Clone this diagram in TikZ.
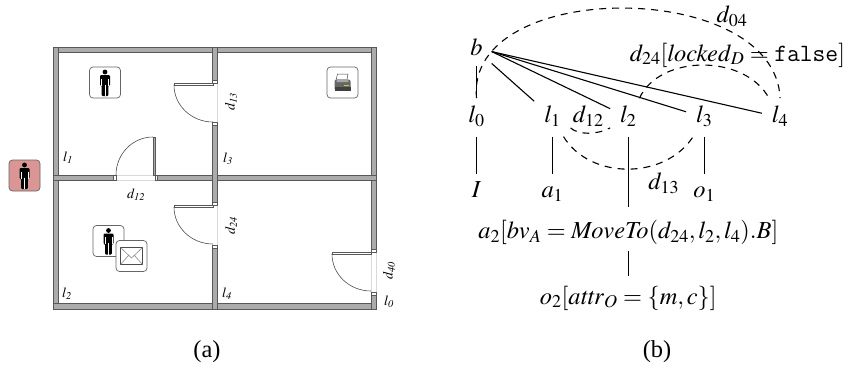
\documentclass[tikz,border=0pt]{standalone}
\usepackage{mathptmx}
\usepackage[no-math]{fontspec}
\setmainfont{Liberation Serif}
\usetikzlibrary{positioning}
\definecolor{wallgray}{HTML}{ABABAB}
\definecolor{walledge}{HTML}{585858}
\definecolor{redbox}{HTML}{D99694}
\tikzset{
  wall/.style={fill=wallgray,draw=walledge,line width=.55pt},
  jamb/.style={fill=white,draw=walledge,line width=.5pt},
  gap/.style={draw=black!15,line width=.8pt},
  swing/.style={draw=black!70,line width=.6pt},
  iconbox/.style={draw=black!60,fill=white,rounded corners=3.5pt,minimum size=31pt,inner sep=0pt,line width=.7pt},
  room/.style={font=\fontsize{14}{16}\selectfont,inner sep=0pt},
  big label/.style={font=\fontsize{24.4}{28}\selectfont},
  cap label/.style={big label,inner sep=0pt},
  loc/.style={big label,minimum width=36pt,minimum height=38pt,inner sep=0pt,text height=11pt,text depth=1pt},
  link/.style={draw=black,line width=1.1pt},
  door link/.style={draw=black,line width=1.1pt,dash pattern=on 7pt off 6pt},
  person/.pic={
    \fill[black] (0,-10.5) circle (2.4);
    \fill[black,rounded corners=1pt] (-5,-7.5) -- (5,-7.5) -- (5,3) -- (3.4,3) -- (3.4,13.5) -- (-3.4,13.5) -- (-3.4,3) -- (-5,3) -- cycle;
    \draw[white,line width=.5pt] (0,2) -- (0,13.5) (-3.4,-4) -- (-3.4,3) (3.4,-4) -- (3.4,3);
  },
  printer/.pic={
    \fill[white,draw=black!70,line width=.5pt] (-5,-8.5) -- (5.5,-8.5) -- (4,0) -- (-7,0) -- cycle;
    \fill[black!60,rounded corners=2pt] (-8,-3) -- (8,-3) -- (8,8) -- (-8,8) -- cycle;
    \fill[black!35] (-5.5,-3.5) -- (5.5,-3.5) -- (6,-.5) -- (-6,-.5) -- cycle;
    \fill[black!75] (-8,4) rectangle (8,8);
    \fill[yellow!80!black] (1.5,2) rectangle (6,3.3);
  },
  envelope/.pic={
    \draw[black!70,line width=1pt,fill=white] (-11,-8.5) rectangle (11,8.5);
    \draw[black!45,line width=.6pt] (-11,-8.5) -- (0,2) -- (11,-8.5) (-11,8.5) -- (-3,-.5) (11,8.5) -- (3,-.5);
  }
}
\begin{document}
\begin{tikzpicture}[x=1pt,y=-1pt]
  \useasboundingbox (0,0) rectangle (849,370);

  % floor plan
  \draw[wall] (53,47) rectangle (376,52.5);
  \draw[wall] (53,47) rectangle (58.5,309);
  \draw[wall] (53,303.5) rectangle (376,309);
  \draw[wall] (371,47) rectangle (376,252);
  \draw[wall] (371,292) rectangle (376,309);
  \draw[wall] (53,175.5) rectangle (116,180.5);
  \draw[wall] (155,175.5) rectangle (376,180.5);
  \draw[wall] (212.7,47) rectangle (217.3,83);
  \draw[wall] (212.7,122) rectangle (217.3,205);
  \draw[wall] (212.7,245) rectangle (217.3,309);

  % doors
  \draw[gap] (217.3,83) -- (217.3,122);
  \draw[gap] (217.3,205) -- (217.3,245);
  \draw[gap] (371,252) -- (371,292) (376,252) -- (376,292);
  \draw[gap] (116,175.5) -- (155,175.5) (116,180.5) -- (155,180.5);
  \draw[jamb] (212.7,80.5) rectangle (217.3,83);
  \draw[jamb] (212.7,122) rectangle (217.3,125);
  \draw[jamb] (212.7,202.5) rectangle (217.3,205);
  \draw[jamb] (212.7,245) rectangle (217.3,248);
  \draw[jamb] (371,249.5) rectangle (376,252);
  \draw[jamb] (371,292) rectangle (376,295);
  \draw[jamb] (113.5,175.5) rectangle (116,180.5);
  \draw[jamb] (155,175.5) rectangle (157.5,180.5);
  \draw[jamb] (174,83) rectangle (213,85);
  \draw[jamb] (174,205) rectangle (213,207);
  \draw[jamb] (332,252) rectangle (371,254);
  \draw[wall,line width=.3pt] (153,137) rectangle (155.5,175.5);
  \draw[swing] (174,85) arc (180:90:39 and 37);
  \draw[swing] (174,207) arc (180:90:39 and 37);
  \draw[swing] (332,254) arc (180:90:39 and 37);
  \draw[swing] (153,137) arc (-90:-180:37 and 38);

  % agents and objects
  \node[iconbox] (agent1) at (105,82.5) {};
  \pic at (agent1) {person};
  \node[iconbox] (printer1) at (342.5,82.5) {};
  \pic at (printer1) {printer};
  \node[iconbox,fill=redbox] (agent0) at (24.5,175.5) {};
  \pic at (agent0) {person};
  \node[iconbox] (agent2) at (108.5,241) {};
  \pic at (agent2) {person};
  \node[iconbox] (mail) at (131.5,256) {};
  \pic at (mail) {envelope};

  % room and door labels
  \node[room] (r1) at (68,158) {$l_{\mathit{1}}$};
  \node[room] (r3) at (228,159) {$l_{\mathit{3}}$};
  \node[room] (r2) at (67,294) {$l_{\mathit{2}}$};
  \node[room] (r4) at (227,294) {$l_{\mathit{4}}$};
  \node[room] (r0) at (389,302) {$l_{\mathit{0}}$};
  \node[room] (dd12) at (136,195) {$d_{\mathit{12}}$};
  \node[room,rotate=90] (dd13) at (231,102) {$d_{\mathit{13}}$};
  \node[room,rotate=90] (dd24) at (231,226) {$d_{\mathit{24}}$};
  \node[room,rotate=90] (dd40) at (389,271) {$d_{\mathit{40}}$};

  % tree
  \node[loc,minimum width=30pt,minimum height=32pt] (b) at (476.5,50) {$b$};
  \node[loc] (l0) [below=32pt of b] {$l_0$};
  \node[loc] (l1) [right=39.5pt of l0] {$l_1$};
  \node[loc] (l2) [right=39.5pt of l1] {$l_2$};
  \node[loc] (l3) [right=39.5pt of l2] {$l_3$};
  \node[loc] (l4) [right=39.5pt of l3] {$l_4$};
  \node[loc] (i) [below=37pt of l0] {$I$};
  \node[loc] (a1) [below=37pt of l1] {$a_1$};
  \node[loc] (o1) [below=37pt of l3] {$o_1$};
  \node[loc,minimum height=44pt,text height=21pt] (a2) [below=70pt of l2] {$a_2[bv_A = \mathit{MoveTo}(d_{24},l_2,l_4).B]$};
  \node[loc,minimum height=40pt,text height=17pt] (o2) [below=25pt of a2] {$o_2[\mathit{attr}_O = \{m,c\}]$};

  \path[link]
    (b) edge (l0)
    (b) edge (l1)
    (b.-6) edge (l2)
    (b.-6) edge (l3)
    (b.-6) edge (l4)
    (l0) edge (i)
    (l1) edge (a1)
    (l2) edge (a2)
    (l3) edge (o1)
    (a2) edge (o2);

  \draw[door link] (l0.north) .. controls (465,-22) and (775,-22) .. (l4.north)
    node[pos=.5,xshift=110pt,yshift=-8pt,big label,inner sep=0pt] (d04) {$d_{04}$};
  \draw[door link] (l2.60) .. controls (660,54) and (745,54) .. (l4.120)
    node[pos=.5,xshift=34.5pt,yshift=10pt,big label,inner sep=0pt] (d24) {$d_{24}[\mathit{locked}_D = \mathtt{false}]$};
  \draw[door link] (l1.-30) .. controls (578,135) and (597,135) .. (l2.210)
    node[pos=.5,yshift=17pt,big label,inner sep=0pt] (d12) {$d_{12}$};
  \draw[door link] (l1.-60) .. controls (590,180) and (665,180) .. (l3.240)
    node[pos=.5,xshift=36pt,yshift=-14pt,big label,inner sep=0pt] (d13) {$d_{13}$};

  % captions
  \node[cap label] (capa) at (207,352) {(a)};
  \node[cap label] (capb) at (657,352) {(b)};
\end{tikzpicture}
\end{document}
